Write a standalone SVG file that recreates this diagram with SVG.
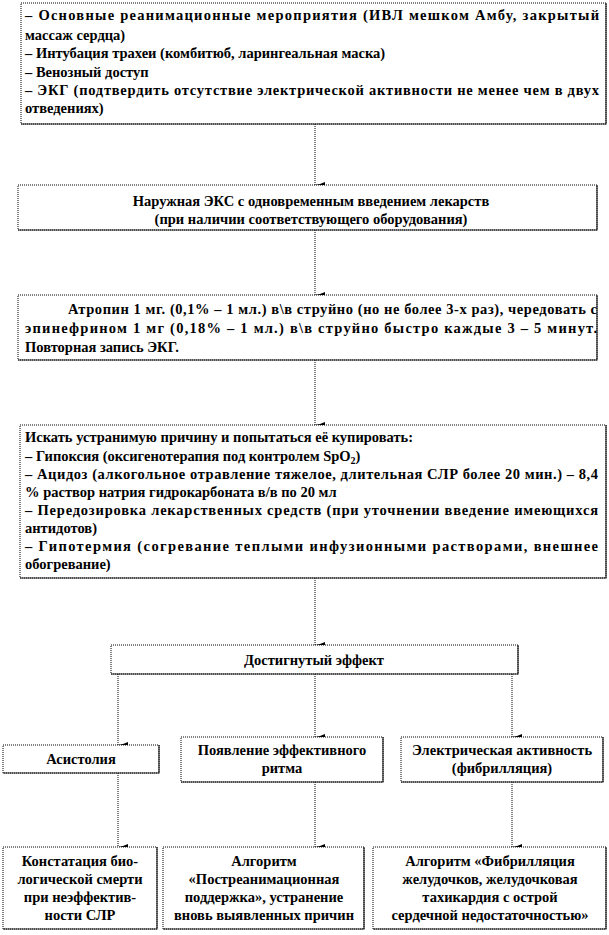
<svg xmlns="http://www.w3.org/2000/svg" width="609" height="935" viewBox="0 0 609 935">
<style>
.bx{fill:#fff;stroke:#000;stroke-width:1;stroke-dasharray:1 1}
.sh{fill:none;stroke:#222;stroke-width:1.2}
text{font-family:"Liberation Serif","DejaVu Serif",serif;font-weight:bold;font-size:14.5px;fill:#000}
.c{text-anchor:middle}
.cn{stroke:#000;stroke-width:1;stroke-dasharray:1 1;fill:none}
</style>
<defs>
<marker id="ah" markerWidth="6" markerHeight="10" refX="3" refY="10" orient="auto-start-reverse" markerUnits="userSpaceOnUse" viewBox="0 0 6 10">
<path d="M0,0 L6,0 L4,5 L3,10 L2,5 Z" fill="#000"/>
</marker>
</defs>
<g id="connectors">
<line class="cn" x1="315" y1="124" x2="315" y2="185" marker-end="url(#ah)"/>
<line class="cn" x1="315" y1="230" x2="315" y2="295" marker-end="url(#ah)"/>
<line class="cn" x1="315" y1="360" x2="315" y2="425" marker-end="url(#ah)"/>
<line class="cn" x1="315" y1="578" x2="315" y2="645" marker-end="url(#ah)"/>
<line class="cn" x1="118" y1="674" x2="118" y2="745" marker-end="url(#ah)"/>
<line class="cn" x1="315" y1="674" x2="315" y2="737" marker-end="url(#ah)"/>
<line class="cn" x1="512" y1="674" x2="512" y2="737" marker-end="url(#ah)"/>
<line class="cn" x1="118" y1="773" x2="118" y2="847" marker-end="url(#ah)"/>
<line class="cn" x1="315" y1="782" x2="315" y2="847" marker-end="url(#ah)"/>
<line class="cn" x1="512" y1="782" x2="512" y2="847" marker-end="url(#ah)"/>
</g>
<g id="n1">
<rect class="bx" x="21" y="3" width="585" height="121"/>
<polyline class="sh" points="606,3 606,124 21,124"/>
<text x="25" y="20" textLength="574" lengthAdjust="spacing">– Основные реанимационные мероприятия (ИВЛ мешком Амбу, закрытый</text>
<text x="25" y="40">массаж сердца)</text>
<text x="25" y="58">– Интубация трахеи (комбитюб, ларингеальная маска)</text>
<text x="25" y="77">– Венозный доступ</text>
<text x="25" y="95" textLength="574" lengthAdjust="spacing">– ЭКГ (подтвердить отсутствие электрической активности не менее чем в двух</text>
<text x="25" y="113">отведениях)</text>
</g>
<g id="n2">
<rect class="bx" x="18" y="185" width="579" height="45"/>
<polyline class="sh" points="597,185 597,230 18,230"/>
<text class="c" x="311" y="206">Наружная ЭКС с одновременным введением лекарств</text>
<text class="c" x="311" y="224">(при наличии соответствующего оборудования)</text>
</g>
<g id="n3">
<rect class="bx" x="18" y="295" width="579" height="65"/>
<polyline class="sh" points="597,295 597,360 18,360"/>
<text x="68" y="314" textLength="529" lengthAdjust="spacing">Атропин 1 мг. (0,1% – 1 мл.) в\в струйно (но не более 3-х раз), чередовать с</text>
<text x="25" y="333" textLength="572" lengthAdjust="spacing">эпинефрином 1 мг (0,18% – 1 мл.) в\в струйно быстро каждые 3 – 5 минут.</text>
<text x="25" y="352">Повторная запись ЭКГ.</text>
</g>
<g id="n4">
<rect class="bx" x="20" y="425" width="586" height="153"/>
<polyline class="sh" points="606,425 606,578 20,578"/>
<text x="25" y="442">Искать устранимую причину и попытаться её купировать:</text>
<text x="25" y="461">– Гипоксия (оксигенотерапия под контролем SpO<tspan font-size="10" dy="3">2</tspan><tspan dy="-3">)</tspan></text>
<text x="25" y="479" textLength="573" lengthAdjust="spacing">– Ацидоз (алкогольное отравление тяжелое, длительная СЛР более 20 мин.) – 8,4</text>
<text x="25" y="497">% раствор натрия гидрокарбоната в/в по 20 мл</text>
<text x="25" y="515" textLength="573" lengthAdjust="spacing">– Передозировка лекарственных средств (при уточнении введение имеющихся</text>
<text x="25" y="533">антидотов)</text>
<text x="25" y="551" textLength="573" lengthAdjust="spacing">– Гипотермия (согревание теплыми инфузионными растворами, внешнее</text>
<text x="25" y="569">обогревание)</text>
</g>
<g id="n5">
<rect class="bx" x="111" y="645" width="407" height="29"/>
<polyline class="sh" points="518,645 518,674 111,674"/>
<text class="c" x="314" y="665">Достигнутый эффект</text>
</g>
<g id="n6">
<rect class="bx" x="3" y="745" width="156" height="28"/>
<polyline class="sh" points="159,745 159,773 3,773"/>
<text class="c" x="81" y="764">Асистолия</text>
</g>
<g id="n7">
<rect class="bx" x="181" y="737" width="202" height="45"/>
<polyline class="sh" points="383,737 383,782 181,782"/>
<text class="c" x="282" y="755">Появление эффективного</text>
<text class="c" x="282" y="773">ритма</text>
</g>
<g id="n8">
<rect class="bx" x="401" y="737" width="202" height="45"/>
<polyline class="sh" points="603,737 603,782 401,782"/>
<text class="c" x="502" y="755">Электрическая активность</text>
<text class="c" x="502" y="773">(фибрилляция)</text>
</g>
<g id="n9">
<rect class="bx" x="3" y="847" width="154" height="82"/>
<polyline class="sh" points="157,847 157,929 3,929"/>
<text class="c" x="80" y="866">Констатация био-</text>
<text class="c" x="80" y="884">логической смерти</text>
<text class="c" x="80" y="902">при неэффектив-</text>
<text class="c" x="80" y="920">ности СЛР</text>
</g>
<g id="n10">
<rect class="bx" x="163" y="847" width="201" height="82"/>
<polyline class="sh" points="364,847 364,929 163,929"/>
<text class="c" x="264" y="866">Алгоритм</text>
<text class="c" x="264" y="884">«Постреанимационная</text>
<text class="c" x="264" y="902">поддержка», устранение</text>
<text class="c" x="264" y="920">вновь выявленных причин</text>
</g>
<g id="n11">
<rect class="bx" x="373" y="847" width="233" height="82"/>
<polyline class="sh" points="606,847 606,929 373,929"/>
<text class="c" x="490" y="866">Алгоритм «Фибрилляция</text>
<text class="c" x="490" y="884">желудочков, желудочковая</text>
<text class="c" x="490" y="902">тахикардия с острой</text>
<text class="c" x="490" y="920">сердечной недостаточностью»</text>
</g>
</svg>
